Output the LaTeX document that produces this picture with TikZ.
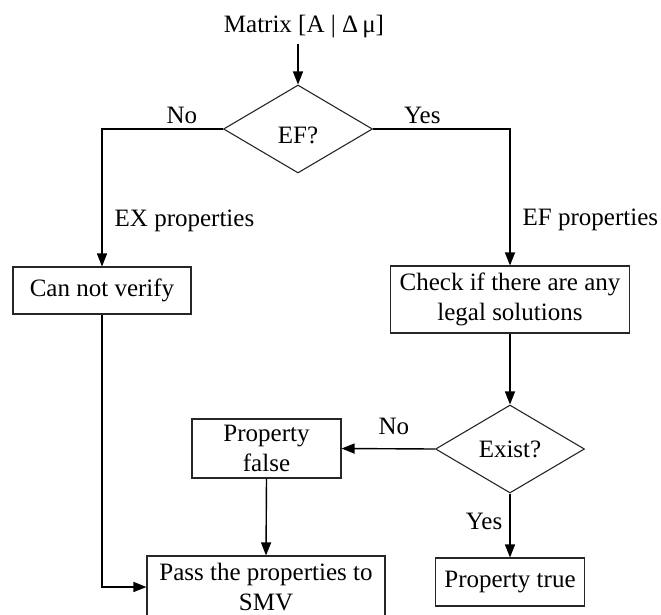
\documentclass[tikz,border=0pt]{standalone}
\usepackage{fontspec}
\setmainfont{Liberation Serif}
\usetikzlibrary{shapes.geometric, arrows.meta, positioning}

\begin{document}
\begin{tikzpicture}[
    x=1pt, y=-1pt,
    font=\fontsize{25}{30}\selectfont,
    procNode/.style={draw=black!85, line width=1.1pt, align=center, inner sep=2pt, minimum height=47pt},
    testNode/.style={diamond, draw=black!85, line width=1.1pt, inner sep=0pt, minimum width=149pt, minimum height=88pt},
    flowLine/.style={draw=black, line width=1.4pt, -{Triangle[length=13pt, width=10pt]}},
    edgeLabel/.style={inner sep=0pt}
  ]
  \useasboundingbox (0,0) rectangle (661,614);

  \node[anchor=base, inner sep=6pt] (mtx) at (304,32) {Matrix [A | Δ\,μ]};
  \node[testNode] (ef) at (298,129) {\raisebox{-14.25pt}[0pt][0pt]{EF?}};
  \node[procNode, minimum width=178pt] (cnv) at (102,290.5) {Can not verify};
  \node[procNode, minimum width=239pt, minimum height=67pt] (chk) at (510,299.5) {Check if there are any\\legal solutions};
  \node[testNode] (exist) at (510,449) {Exist?};
  \node[procNode, minimum width=149pt, minimum height=59pt] (pfalse) at (266.5,448.5) {Property\\false};
  \node[procNode, minimum width=149pt, minimum height=48pt] (ptrue) at (510,582) {Property true};
  \node[procNode, minimum width=238pt, minimum height=62pt] (pass) at (266,587) {Pass the properties to\\SMV};

  % input and first test
  \draw[flowLine] (mtx.south -| ef.north) -- (ef.north);
  \draw[flowLine] (ef.west) -| node[edgeLabel, pos=0.17, anchor=base, yshift=6pt] (noA) {No}
    node[edgeLabel, pos=0.855, anchor=base west, xshift=12pt] (exLbl) {EX properties} (cnv.north);
  \draw[flowLine] (ef.east) -| node[edgeLabel, pos=0.18, anchor=base, yshift=6pt] (yesA) {Yes}
    node[edgeLabel, pos=0.855, anchor=base west, xshift=12pt] (efLbl) {EF properties} (chk.north);

  % legal solutions
  \draw[flowLine] (chk.south) -- (exist.north);
  \draw[flowLine] (exist.west) -- node[edgeLabel, pos=0.44, anchor=base, yshift=14pt] (noB) {No} (pfalse.east);
  \draw[flowLine] (exist.south) -- node[edgeLabel, pos=0.57, anchor=base east, xshift=-7pt] (yesB) {Yes} (ptrue.north);

  % to SMV
  \draw[flowLine] (pfalse.south) -- (pass.north);
  \draw[flowLine] (cnv.south) |- (pass.west);
\end{tikzpicture}
\end{document}
